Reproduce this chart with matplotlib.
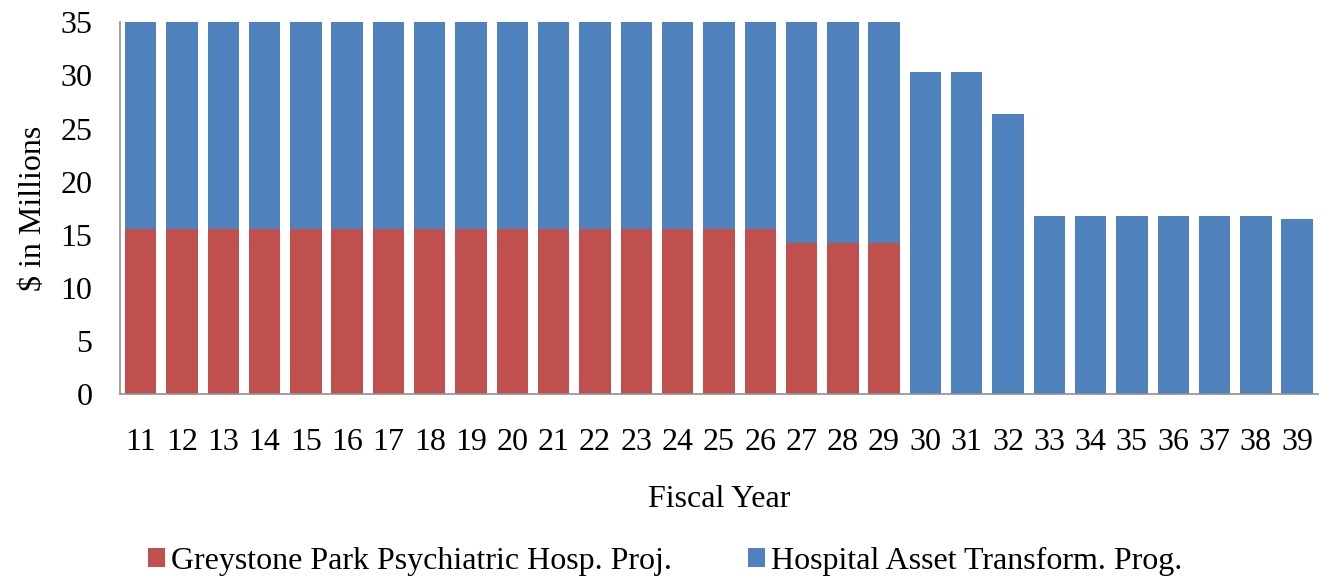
import matplotlib.pyplot as plt

years = [str(y) for y in range(11, 40)]
greystone = [15.6] * 16 + [14.2] * 3 + [0] * 10
hospital = [19.4] * 16 + [20.8] * 3 + [30.3, 30.3, 26.4, 16.75, 16.75, 16.75, 16.75, 16.75, 16.75, 16.45]

RED = "#C0504D"
BLUE = "#4F81BD"

plt.rcParams["font.family"] = ["Liberation Serif", "DejaVu Serif"]

fig = plt.figure(figsize=(13.22, 5.8), dpi=100)
ax = fig.add_axes([0.0908, 0.32, 0.906, 0.6416])

x = list(range(len(years)))
ax.bar(x, greystone, width=0.76, color=RED, label="Greystone Park Psychiatric Hosp. Proj.")
ax.bar(x, hospital, width=0.76, bottom=greystone, color=BLUE, label="Hospital Asset Transform. Prog.")

ax.set_xlim(-0.5, len(years) - 0.5)
ax.set_ylim(0, 35)
ax.set_yticks(range(0, 36, 5))
ax.set_xticks(x)
ax.set_xticklabels(years)
ax.tick_params(axis="both", length=0, labelsize=23)
ax.tick_params(axis="x", pad=24)
ax.tick_params(axis="y", pad=20)
for side in ("top", "right"):
    ax.spines[side].set_visible(False)
for side in ("left", "bottom"):
    ax.spines[side].set_color("#909090")
    ax.spines[side].set_linewidth(1.2)

ax.set_xlabel("Fiscal Year", fontsize=23, labelpad=20)
ax.set_ylabel("$ in Millions", fontsize=23, labelpad=9)

fig.legend(loc="lower center", bbox_to_anchor=(0.503, -0.043), ncol=2, frameon=False,
           fontsize=23, handlelength=0.53, handleheight=0.53, handletextpad=0.18,
           columnspacing=2.4)

fig.savefig("out.png", dpi=100)
